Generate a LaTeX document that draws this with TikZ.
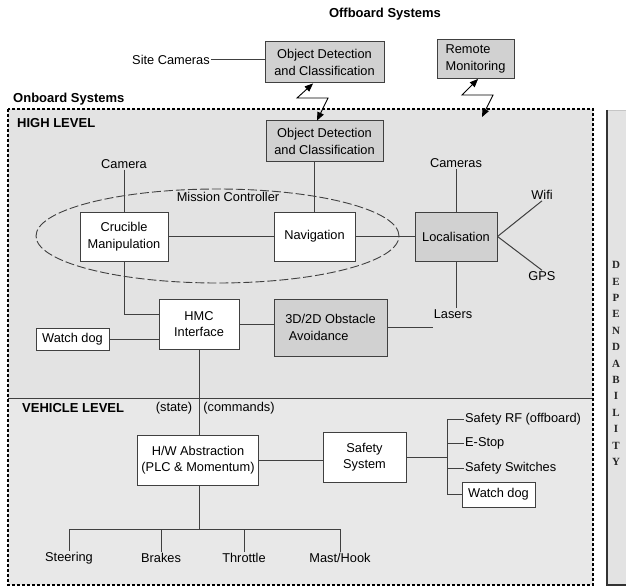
\documentclass[tikz,border=0pt]{standalone}
\usepackage{fontspec}
\setmainfont{Liberation Sans}
\newfontfamily\letterfont{Liberation Serif}
\usetikzlibrary{shapes,arrows}
\definecolor{highbg}{gray}{0.89}
\definecolor{lowbg}{gray}{0.91}
\definecolor{shade}{gray}{0.82}
\definecolor{ink}{gray}{0.25}
\tikzset{%
  base/.style    = {rectangle, draw=ink, line width=1pt, fill=white, inner sep=2pt,
    align=center, font=\fontsize{12.8}{16.5}\selectfont},
  shaded/.style  = {base, fill=shade}, % grey block
  txt/.style     = {inner sep=1pt, font=\fontsize{12.8}{15}\selectfont},
  heading/.style = {inner sep=1pt, font=\fontsize{13}{15}\selectfont\bfseries},
  letter/.style  = {inner sep=0pt, font=\letterfont\fontsize{11}{12}\selectfont\bfseries, text=gray!30!black},
  link/.style    = {draw=ink, line width=1pt},
  wireless/.style= {draw=black, line width=0.9pt, <->}
}

\begin{document}
\begin{tikzpicture}[x=1pt, y=-1pt, >=triangle 45]
\useasboundingbox (0,0) rectangle (626,588);
% background areas
\fill[highbg] (8,109) rectangle (593,398);
\fill[lowbg] (8,398) rectangle (593,585);
\draw[ink, line width=0.8pt] (8,398) -- (593,398);
\draw[black, line width=1.2pt, dash pattern=on 3pt off 2pt] (8,109) rectangle (593,585);
\filldraw[fill=gray!22, draw=gray!45] (606,110) rectangle (630,585);
\draw[gray!40!black, line width=2.5pt] (607,110) -- (607,585);
\draw[gray!40!black, line width=1.5pt] (606,585) -- (630,585);

% offboard
\draw
	node at(385,14)[heading, name=offtitle]{Offboard Systems}
	node at(171,60)[txt, name=sitecam]{Site Cameras}
	node at(324.5,62.5)[shaded, name=offobj, minimum width=119, minimum height=41]{Object Detection\\and Classification}
	node at(475.5,59)[shaded, name=remote, minimum width=77, minimum height=39, align=left]{Remote\\Monitoring};
\draw
	node at(12,99)[heading, anchor=west, name=ontitle]{Onboard Systems}
	node at(16,123)[heading, anchor=west, name=hightitle]{HIGH LEVEL}
	node at(21,408)[heading, anchor=west, name=vehtitle]{VEHICLE LEVEL};

% high level
\node at(217.5,236)[ellipse, draw=ink, line width=0.9pt, dash pattern=on 9pt off 3pt,
	minimum width=363, minimum height=94, inner sep=0pt, name=mission]{};
\draw
	node at(228,197)[txt, name=missionlbl]{Mission Controller}
	node at(324.5,141.5)[shaded, name=onobj, minimum width=117, minimum height=41]{Object Detection\\and Classification}
	node at(124,164)[txt, name=camera]{Camera}
	node at(124,236.5)[base, name=crucible, minimum width=88, minimum height=49]{Crucible\\Manipulation}
	node at(314.5,236.5)[base, name=nav, minimum width=81, minimum height=49]{Navigation}
	node at(456,236.5)[shaded, name=loc, minimum width=82, minimum height=49]{Localisation}
	node at(456,163)[txt, name=cameras]{Cameras}
	node at(542,195)[txt, name=wifi]{Wifi}
	node at(542,276)[txt, name=gps]{GPS}
	node at(453,314)[txt, name=lasers]{Lasers}
	node at(199,324)[base, name=hmc, minimum width=80, minimum height=50]{HMC\\Interface}
	node at(72.5,339)[base, name=wdog, minimum width=73, minimum height=22]{Watch dog}
	node at(330.5,327.5)[shaded, name=obst, minimum width=113, minimum height=57, align=left]{3D/2D Obstacle\\\ Avoidance};

% vehicle level
\draw
	node at(174,408)[txt, name=state]{(state)}
	node at(239,408)[txt, name=commands]{(commands)}
	node at(198,460)[base, name=hw, minimum width=121, minimum height=50]{H/W Abstraction\\(PLC \& Momentum)}
	node at(364.5,457)[base, name=safety, minimum width=83, minimum height=50]{Safety\\System}
	node at(464,419)[txt, anchor=west, name=srf]{Safety RF (offboard)}
	node at(464,443)[txt, anchor=west, name=estop]{E-Stop}
	node at(464,468)[txt, anchor=west, name=sswitch]{Safety Switches}
	node at(498.5,494.5)[base, name=wdogtwo, minimum width=73, minimum height=25]{Watch dog}
	node at(69,558)[txt, name=steering]{Steering}
	node at(161,558)[txt, name=brakes]{Brakes}
	node at(244,558)[txt, name=throttle]{Throttle}
	node at(340,558)[txt, name=mast]{Mast/Hook};

\foreach \ch [count=\i] in {D,E,P,E,N,D,A,B,I,L,I,T,Y}
	\node at(616,{265+16.4*(\i-1)})[letter, name=dep\i]{\ch};

% connections
\draw[link] (sitecam.east) -- (sitecam.east -| offobj.west);
\draw[wireless] ([xshift=-11.5pt]offobj.south) -- (297,98) -- (328,98) -- ([xshift=-7.5pt]onobj.north);
\coordinate (rmlink) at (482,117);
\draw[wireless] ([xshift=2.5pt]remote.south) -- (462,95) -- (493,95) -- (rmlink);
\draw[link] (camera) -- (crucible);
\draw[link] (nav.north) -- (nav.north |- onobj.south);
\draw[link] (crucible) -- (nav);
\draw[link] (nav) -- (loc);
\draw[link] (cameras) -- (loc);
\draw[link] (loc.south) -- (loc.south |- lasers.north);
\draw[link] (loc.east) -- (wifi.south);
\draw[link] (loc.east) -- (gps.north);
\draw[link] (crucible.south) |- (hmc.167);
\draw[link] (wdog.east) -- (wdog.east -| hmc.west);
\draw[link] (hmc.east) -- (hmc.east -| obst.west);
\draw[link] (obst.east) -- (obst.east -| lasers.west);
\draw[link] (hmc.south) -- (hmc.south |- hw.north);
\draw[link] (hw.east) -- (hw.east -| safety.west);
\draw[link] (srf.west) -- ++(-17,0) coordinate (bustop) |- (wdogtwo.west);
\draw[link] (estop.west) -- (estop.west -| bustop);
\draw[link] (sswitch.west) -- (sswitch.west -| bustop);
\draw[link] (safety.east) -- (safety.east -| bustop);
\coordinate (split) at (199,529);
\draw[link] (hw.south -| split) -- (split);
\foreach \n in {steering,brakes,throttle,mast}
	\draw[link] (\n.north) -- (\n.north |- split);
\draw[link] (steering.north |- split) -- (mast.north |- split);
\end{tikzpicture}
\end{document}
